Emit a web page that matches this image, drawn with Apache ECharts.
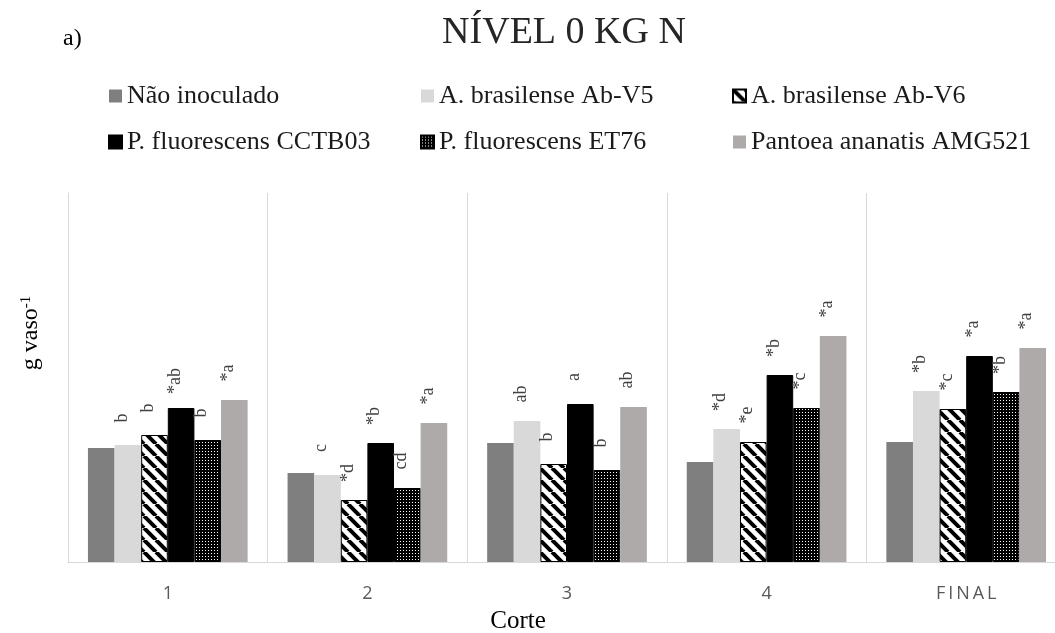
<!DOCTYPE html>
<html>
<head>
<meta charset="utf-8">
<script src="https://cdn.jsdelivr.net/npm/echarts@6/dist/echarts.min.js"></script>
<style>html,body{margin:0;padding:0;background:#fff;}#chart{width:1055px;height:633px;}</style>
</head>
<body>
<div id="chart"></div>
<script>
const categories = ['1', '2', '3', '4', 'FINAL'];
const seriesNames = ['Não inoculado', 'A. brasilense Ab-V5', 'A. brasilense Ab-V6', 'P. fluorescens CCTB03', 'P. fluorescens ET76', 'Pantoea ananatis AMG521'];
const naoInoculado = [11.4, 8.9, 11.9, 10.0, 12.0];
const abV5 = [11.7, 8.7, 14.1, 13.3, 17.1];
const abV6 = [12.7, 6.2, 9.8, 12.0, 15.3];
const cctb03 = [15.4, 11.9, 15.8, 18.7, 20.6];
const et76 = [12.2, 7.4, 9.2, 15.4, 17.0];
const amg521 = [16.2, 13.9, 15.5, 22.6, 21.4];
const labelsNao = ['', '', '', '', ''];
const labelsV5 = ['b', 'c', 'ab', '*d', '*b'];
const labelsV6 = ['b', '*d', 'b', '*e', '*c'];
const labelsCCTB = ['*ab', '*b', 'a', '*b', '*a'];
const labelsET76 = ['b', 'cd', 'b', '*c', '*b'];
const labelsAMG = ['*a', '*a', 'ab', '*a', '*a'];
const yMax = 36.9;

function stripePattern() {
  const c = document.createElement('canvas');
  const s = 12;
  c.width = s; c.height = s;
  const g = c.getContext('2d');
  g.fillStyle = '#fff'; g.fillRect(0, 0, s, s);
  g.strokeStyle = '#000'; g.lineWidth = 4;
  for (let k = -1; k <= 1; k++) {
    g.beginPath(); g.moveTo(k * s, 0); g.lineTo(k * s + s, s); g.stroke();
  }
  return c;
}
function dotPattern() {
  const c = document.createElement('canvas');
  c.width = 3; c.height = 3;
  const g = c.getContext('2d');
  g.fillStyle = '#000'; g.fillRect(0, 0, 3, 3);
  g.fillStyle = '#fff'; g.fillRect(1, 1, 1, 1);
  return c;
}

const values = [naoInoculado, abV5, abV6, cctb03, et76, amg521];
const labels = [labelsNao, labelsV5, labelsV6, labelsCCTB, labelsET76, labelsAMG];
const colors = ['#7f7f7f', '#d9d9d9', { image: stripePattern(), repeat: 'repeat' }, '#000000', { image: dotPattern(), repeat: 'repeat' }, '#aeaaaa'];
const borders = [0, 0, 1, 1, 1, 0];

const serif = 'Liberation Serif';
const series = values.map((vals, i) => ({
  name: seriesNames[i],
  type: 'bar',
  barGap: '0%',
  barCategoryGap: '20%',
  data: vals,
  itemStyle: { color: colors[i], borderColor: '#000', borderWidth: borders[i] },
  label: {
    show: true,
    position: 'top',
    distance: 27,
    rotate: 90,
    align: 'center',
    verticalAlign: 'middle',
    offset: [0, -6],
    fontFamily: serif,
    fontSize: 18,
    color: '#404040',
    formatter: (p) => labels[i][p.dataIndex]
  },
  emphasis: { disabled: true }
}));

const legendBase = {
  orient: 'vertical',
  itemWidth: 13,
  itemHeight: 13,
  itemGap: 20,
  icon: 'rect',
  padding: 0,
  selectedMode: false,
  textStyle: { fontFamily: serif, fontSize: 26, color: '#1a1a1a', lineHeight: 26 },
  top: 83
};

const chart = echarts.init(document.getElementById('chart'), null, { renderer: 'canvas' });
chart.setOption({
  animation: false,
  backgroundColor: '#fff',
  title: [
    { text: 'NÍVEL 0 KG N', left: 564, top: 14, padding: 0, textAlign: 'center', textStyle: { fontFamily: serif, fontSize: 38, fontWeight: 'normal', color: '#262626' } },
    { text: 'a)', left: 63, top: 27, padding: 0, textStyle: { fontFamily: serif, fontSize: 24, fontWeight: 'normal', color: '#000' } },
    { text: 'Corte', left: 518, top: 609, padding: 0, textAlign: 'center', textStyle: { fontFamily: serif, fontSize: 25, fontWeight: 'normal', color: '#000' } }
  ],
  legend: [
    Object.assign({}, legendBase, { left: 108, data: [seriesNames[0], seriesNames[3]] }),
    Object.assign({}, legendBase, { left: 420, data: [seriesNames[1], seriesNames[4]] }),
    Object.assign({}, legendBase, { left: 732, data: [seriesNames[2], seriesNames[5]] })
  ],
  grid: { left: 68, top: 193, bottom: 71, width: 998, outerBoundsMode: 'none', containLabel: false },
  xAxis: {
    type: 'category',
    data: categories,
    axisLine: { show: true, lineStyle: { color: '#d9d9d9', width: 1 } },
    axisTick: { show: false },
    splitLine: { show: true, lineStyle: { color: '#d9d9d9', width: 1 } },
    axisLabel: {
      color: '#595959', fontFamily: 'Open Sans', fontSize: 18, margin: 23,
      formatter: (v) => v.length > 1 ? v.split('').join('\u2009') : v
    }
  },
  yAxis: {
    type: 'value',
    min: 0,
    max: yMax,
    axisLine: { show: true, lineStyle: { color: '#d9d9d9', width: 1 } },
    axisTick: { show: false },
    axisLabel: { show: false },
    splitLine: { show: false }
  },
  graphic: [{
    type: 'text',
    x: 31,
    y: 333,
    rotation: Math.PI / 2,
    style: {
      text: '{m|g vaso}{s|-1}',
      align: 'center',
      verticalAlign: 'middle',
      rich: {
        m: { fontFamily: serif, fontSize: 24, fill: '#000' },
        s: { fontFamily: serif, fontSize: 15, fill: '#000', verticalAlign: 'top', padding: [0, 0, 10, 0] }
      }
    }
  }],
  series: series
});
</script>
</body>
</html>
